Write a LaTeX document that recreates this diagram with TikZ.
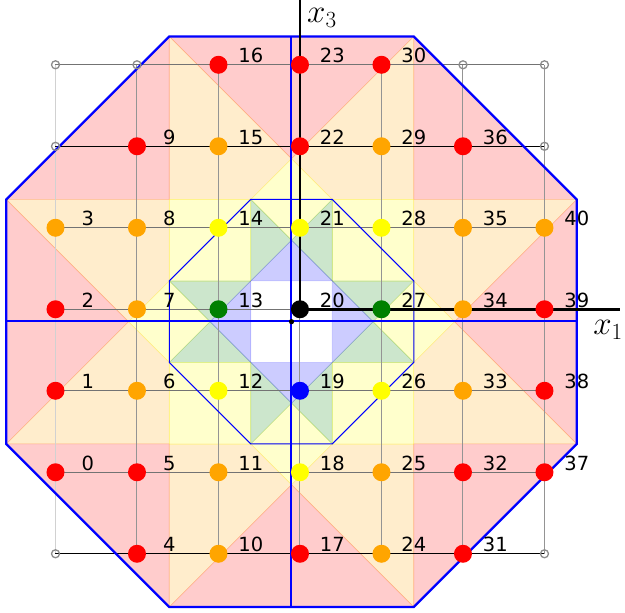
\RequirePackage{fix-cm}
\documentclass[tikz,border=0pt]{standalone}
\usepackage{fontspec}
\newfontfamily\numfont{DejaVu Sans}
\definecolor{cred}{RGB}{255,0,0}
\definecolor{corange}{RGB}{255,165,0}
\definecolor{cyellow}{RGB}{255,255,0}
\definecolor{cgreen}{RGB}{0,128,0}
\definecolor{cblue}{RGB}{0,0,255}
\begin{document}
\begin{tikzpicture}[x=81.5pt,y=81.5pt,
  reg/.style={fill=#1,fill opacity=0.2,draw=#1,draw opacity=0.18,line width=0.6pt},
  latdot/.style={circle,inner sep=0pt,minimum size=18pt,fill=#1},
  emptydot/.style={circle,inner sep=0pt,minimum size=8pt,draw=black!45,line width=1.3pt},
  gridgray/.style={draw=black!42,line width=1pt},
  gridrow/.style={draw=black!55,line width=1.1pt},
  gridlight/.style={draw=black!18,line width=1.1pt},
  gridblack/.style={draw=black,line width=1.2pt},
  guide/.style={draw=cblue,line width=1.4pt},
  axisline/.style={draw=black,line width=2.6pt},
  lbl/.style={font=\numfont\fontsize{19.5}{20}\selectfont,inner sep=0pt},
  axlbl/.style={font=\fontsize{33}{33}\selectfont,inner sep=0pt,anchor=base west}]
\useasboundingbox (-3.577,-3.574) rectangle (4.092,3.947);

% coloured regions
\foreach \r in {0,90,180,270} {
 \begin{scope}[rotate=\r]
  \path[reg=cred] (1.5,1.5) -- (1.5,3.5) -- (3.5,1.5) -- cycle;
  \path[reg=cred] (-1.5,3.5) -- (1.5,3.5) -- (0,2) -- cycle;
  \path[reg=corange] (-1.5,1.5) -- (-1.5,3.5) -- (0,2) -- (-0.5,1.5) -- cycle;
  \path[reg=corange] (1.5,1.5) -- (1.5,3.5) -- (0,2) -- (0.5,1.5) -- cycle;
  \path[reg=cyellow] (-0.5,1.5) -- (0,2) -- (0.5,1.5) -- cycle;
  \path[reg=cyellow] (0.5,0.5) -- (1.5,0.5) -- (1.5,1.5) -- (0.5,1.5) -- cycle;
  \path[reg=cyellow] (-0.5,1.5) -- (0,1) -- (0.5,1.5) -- cycle;
  \path[reg=cgreen] (0,1) -- (0.5,1.5) -- (0.5,0.5) -- cycle;
  \path[reg=cgreen] (0,1) -- (-0.5,1.5) -- (-0.5,0.5) -- cycle;
  \path[reg=cblue] (0,1) -- (-0.5,0.5) -- (0.5,0.5) -- cycle;
 \end{scope}}

% lattice coordinates
\foreach \a in {0,...,6} \foreach \b in {0,...,6}
  \coordinate (g\a\b) at ({\a-3+0.104},{\b-3+0.152});

% grid lines
\draw[gridlight] (g00) -- (g06);
\foreach \a in {1,2,3,4,5,6} \draw[gridgray] (g\a0) -- (g\a6);
\foreach \b in {1,2,4,6} \draw[gridrow] (g0\b) -- (g6\b);
\draw[gridrow] (g03) -- (g33);
\draw[gridblack] (g05) -- (g65);
\draw[gridblack] (g00) -- (g60);

% blue guide lines and octagons
\coordinate (vb) at (-0.006,-3.5);
\coordinate (vt) at (-0.006,3.5);
\coordinate (hl) at (-3.5,0.0086);
\coordinate (hr) at (3.5,0.0086);
\draw[guide] (vb) -- (vt);
\draw[guide] (hl) -- (hr);
\draw[guide,line width=1pt,line join=miter] (-0.5,1.5) -- (0.5,1.5) -- (1.5,0.5) -- (1.5,-0.5)
  -- (0.5,-1.5) -- (-0.5,-1.5) -- (-1.5,-0.5) -- (-1.5,0.5) -- cycle;
\draw[guide,line width=2.3pt,line join=miter] (-1.5,3.5) -- (1.5,3.5) -- (3.5,1.5) -- (3.5,-1.5)
  -- (1.5,-3.5) -- (-1.5,-3.5) -- (-3.5,-1.5) -- (-3.5,1.5) -- cycle;

% empty lattice positions
\foreach \a/\b in {0/6,1/6,0/5,0/0,5/6,6/6,6/5,6/0}
  \node[emptydot] (e\a\b) at (g\a\b) {};

% axes
\coordinate (x3end) at (0.104,3.96);
\coordinate (x1end) at (4.03,0.152);
\draw[axisline] (g33) -- (x3end);
\draw[axisline] (g33) -- (x1end);
\node[axlbl] (x3lbl) at (0.19,3.675) {$x_3$};
\node[axlbl] (x1lbl) at (3.70,-0.162) {$x_1$};

% lattice points and numbers
\foreach \n/\a/\b/\c in {0/0/1/cred,1/0/2/cred,2/0/3/cred,3/0/4/corange,
  4/1/0/cred,5/1/1/cred,6/1/2/corange,7/1/3/corange,8/1/4/corange,9/1/5/cred,
  10/2/0/corange,11/2/1/corange,12/2/2/cyellow,13/2/3/cgreen,14/2/4/cyellow,15/2/5/corange,16/2/6/cred,
  17/3/0/cred,18/3/1/cyellow,19/3/2/cblue,20/3/3/black,21/3/4/cyellow,22/3/5/cred,23/3/6/cred,
  24/4/0/corange,25/4/1/corange,26/4/2/cyellow,27/4/3/cgreen,28/4/4/cyellow,29/4/5/corange,30/4/6/cred,
  31/5/0/cred,32/5/1/cred,33/5/2/corange,34/5/3/corange,35/5/4/corange,36/5/5/cred,
  37/6/1/cred,38/6/2/cred,39/6/3/cred,40/6/4/corange} {
  \node[latdot=\c] (n\n) at (g\a\b) {};
  \node[lbl] (t\n) at ([shift={(0.396,0.112)}]g\a\b) {\n};
}

% centre of the octagon
\fill (0,0) circle (2.6pt);
\end{tikzpicture}
\end{document}
